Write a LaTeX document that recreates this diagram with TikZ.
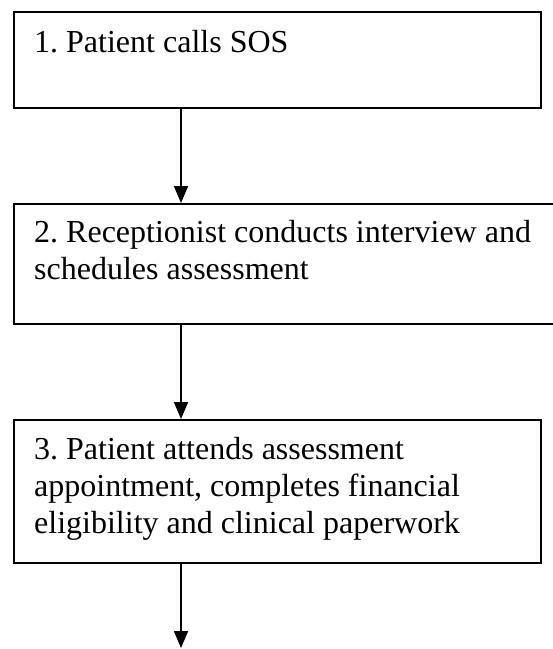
\documentclass[tikz,border=0pt]{standalone}
\usepackage{fontspec}
\setmainfont{Liberation Serif}
\usetikzlibrary{arrows.meta}
\frenchspacing
\begin{document}
\begin{tikzpicture}[x=1pt,y=-1pt,
  stepbox/.style={draw,line width=1.8pt,inner sep=0pt,anchor=north west},
  steptext/.style={anchor=base west,inner sep=0pt,align=left,font=\fontsize{32}{37}\selectfont},
  flow/.style={line width=1.8pt,-{Triangle[width=14pt,length=17pt]}}]
\useasboundingbox (0,0) rectangle (553,649);
\node[stepbox,minimum width=527pt,minimum height=96pt] (b1) at (13,11) {};
\node[stepbox,minimum width=560pt,minimum height=120pt] (b2) at (13,203) {};
\node[stepbox,minimum width=527pt,minimum height=143pt] (b3) at (13,419) {};
\node[steptext] (t1) at (34,52) {1. Patient calls SOS};
\node[steptext] (t2) at (34,279) {2. Receptionist conducts interview and\\schedules assessment};
\node[steptext] (t3) at (34,533) {3. Patient attends assessment\\appointment, completes financial\\eligibility and clinical paperwork};
\coordinate (end) at (181,648);
\draw[flow] (b1.south west -| end) -- (b2.north west -| end);
\draw[flow] (b2.south west -| end) -- (b3.north west -| end);
\draw[flow] (b3.south west -| end) -- (end);
\end{tikzpicture}
\end{document}
